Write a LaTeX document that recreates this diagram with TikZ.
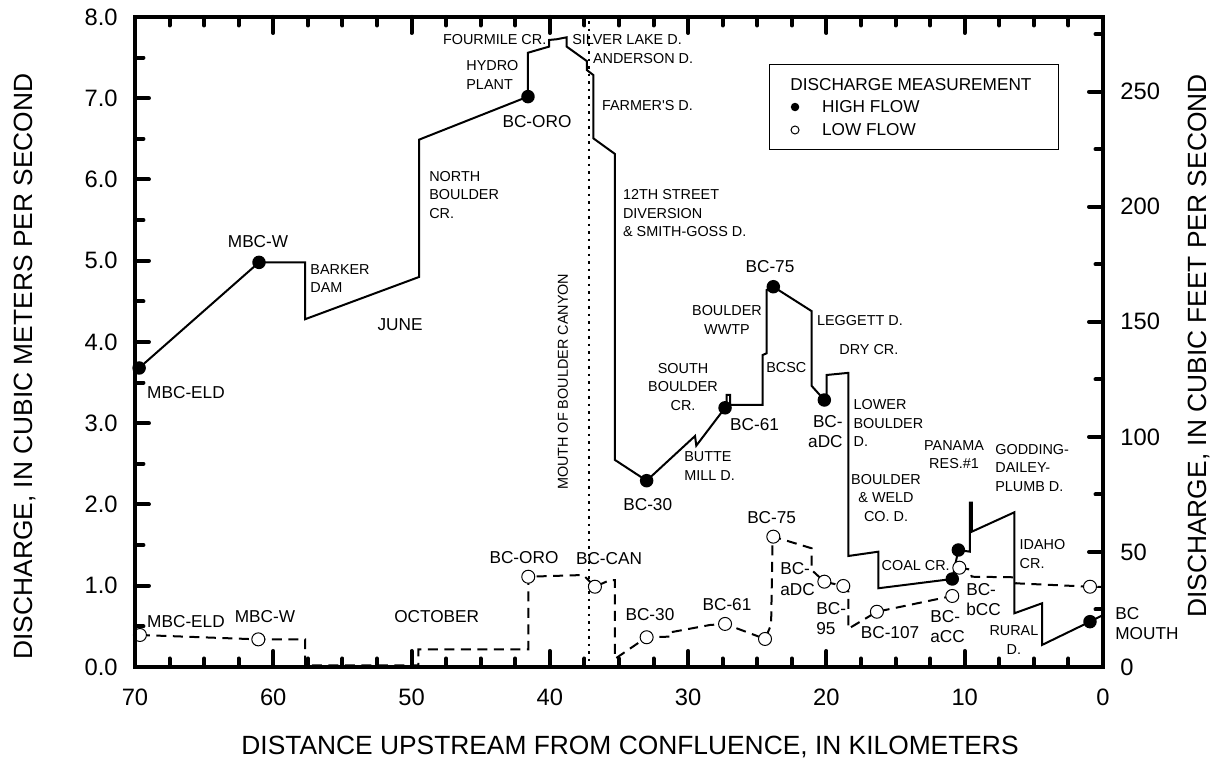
\documentclass[tikz,border=0pt]{standalone}
\usepackage{fontspec}
\setmainfont{Liberation Sans}
\usetikzlibrary{calc}
\def\cfs{0.0283168}

\begin{document}
\begin{tikzpicture}[x={(-0.27658cm,0)}, y={(0,1.625cm)},
	frame/.style={line width=0.8mm},
	axtick/.style={line width=0.8mm, line cap=round},
	high/.style={line width=0.4mm},
	low/.style={line width=0.4mm, dash pattern=on 2mm off 1.3mm},
	canyon/.style={line width=0.4mm, dash pattern=on 0.5mm off 1mm},
	hdot/.style={circle, fill=black, inner sep=0pt, minimum size=2.7mm},
	ldot/.style={circle, draw=black, fill=white, line width=0.2mm, inner sep=0pt, minimum size=2.6mm},
	feat/.style={font=\fontsize{8.2}{10.6}\selectfont, inner sep=0pt, align=left},
	stn/.style={font=\fontsize{9.8}{11.6}\selectfont, inner sep=0pt, align=left},
	num/.style={font=\fontsize{13.5}{16}\selectfont, inner sep=0pt},
	ttl/.style={font=\fontsize{15}{17}\selectfont, inner sep=0pt}]
			%%%%% START %%%%%
			
			\useasboundingbox (79.76,-1.157) rectangle (-7.954,8.209);
			
			% mouth of the canyon
			\draw[canyon] (37.17,7.95) -- (37.17,0);
			\node[feat, rotate=90] (canyon) at (39.05,3.51) {MOUTH OF BOULDER CANYON};
			
			% june, high flow
			\draw[high] (69.7,3.68) -- (61.03,4.98) -- (57.7,4.98) -- (57.7,4.28) -- (49.46,4.80) -- (49.46,6.49)
				-- (41.58,7.02) -- (41.58,7.56) -- (40.06,7.635) -- (40.06,7.717) -- (39.5,7.726) -- (38.78,7.75)
				-- (38.78,7.635) -- (37.33,7.458) -- (37.33,7.348) -- (36.86,7.286) -- (36.86,6.507) -- (35.29,6.314)
				-- (35.29,2.548) -- (33.0,2.293) -- (29.5,2.843) -- (29.41,2.724) -- (27.33,3.19);
			\draw[high] (27.33,3.19) -- (27.21,3.225) -- (27.21,3.348) -- (26.97,3.348) -- (26.97,3.225) -- (24.61,3.225)
				-- (24.61,3.84) -- (24.32,3.861) -- (24.32,4.64) -- (23.84,4.68) -- (21.07,4.38) -- (21.07,3.46)
				-- (20.15,3.286) -- (19.98,3.29) -- (19.98,3.594) -- (18.42,3.62) -- (18.42,1.366) -- (16.25,1.419)
				-- (16.25,0.969) -- (10.9,1.083) -- (10.46,1.44) -- (9.62,1.419) -- (9.62,2.022) -- (9.49,2.022)
				-- (9.49,1.665) -- (6.41,1.904) -- (6.41,0.661) -- (4.41,0.784) -- (4.41,0.271) -- (0.94,0.558) -- (0,0.64);
			
			% october, low flow
			\draw[low] (69.64,0.394) -- (61.08,0.34) -- (57.7,0.34) -- (57.7,0.02) -- (49.51,0.02) -- (49.51,0.218)
				-- (41.56,0.218) -- (41.56,1.111) -- (37.58,1.132) -- (36.74,0.988) -- (35.65,1.07) -- (35.29,1.07)
				-- (35.29,0.1) -- (33.0,0.366) -- (31.43,0.373) -- (31.43,0.422) -- (28.42,0.517) -- (27.33,0.53)
				-- (24.44,0.345) -- (24.0,0.52) -- (23.9,1.5) -- (23.84,1.604) -- (21.07,1.461) -- (21.07,1.194)
				-- (20.15,1.05) -- (18.78,0.997) -- (18.42,0.93) -- (18.42,0.47) -- (16.35,0.68) -- (10.9,0.874);
			\draw[low] (10.39,1.222) -- (9.62,1.2) -- (9.49,1.111) -- (6.41,1.104) -- (6.3,1.03) -- (0.94,0.988) -- (0,0.985);
			
			% measurements
			\foreach \k/\q [count=\i] in {69.7/3.68, 61.03/4.98, 41.58/7.02, 33.0/2.293, 27.33/3.19, 23.84/4.68,
				20.15/3.286, 10.9/1.083, 10.46/1.44, 0.94/0.558}
				\node[hdot] (hi\i) at (\k,\q) {};
			\foreach \k/\q [count=\i] in {69.64/0.394, 61.08/0.34, 41.56/1.111, 36.74/0.988, 33.0/0.366, 27.33/0.53,
				24.44/0.345, 23.84/1.604, 20.15/1.05, 18.78/0.997, 16.35/0.68, 10.9/0.874, 10.39/1.222, 0.94/0.988}
				\node[ldot] (lo\i) at (\k,\q) {};
			
			% labels, high flow
			\node[stn] (eldhi) at (66.31,3.372) {MBC-ELD};
			\node[stn] (whi) at (61.1,5.231) {MBC-W};
			\node[feat, anchor=west] (barker) at (57.34,4.782) {BARKER\\DAM};
			\node[stn] (june) at (50.83,4.209) {JUNE};
			\node[feat, anchor=west] (northbc) at (48.74,5.813) {NORTH\\BOULDER\\CR.};
			\node[feat, anchor=west] (hydro) at (46.06,7.286) {HYDRO\\PLANT};
			\node[feat, anchor=east] (fourmile) at (40.23,7.717) {FOURMILE CR.};
			\node[feat, anchor=west] (silver) at (38.4,7.717) {SILVER LAKE D.};
			\node[feat, anchor=west] (anderson) at (36.9,7.483) {ANDERSON D.};
			\node[stn] (orohi) at (40.93,6.708) {BC-ORO};
			\node[feat, anchor=west] (farmer) at (36.25,6.905) {FARMER\textquotesingle S D.};
			\node[feat, anchor=west] (twelfth) at (34.73,5.584) {12TH STREET\\DIVERSION\\\& SMITH-GOSS D.};
			\node[stn] (s75hi) at (24.08,4.927) {BC-75};
			\node[feat, align=center] (wwtp) at (27.19,4.271) {BOULDER\\WWTP};
			\node[feat, anchor=west] (leggett) at (20.7,4.258) {LEGGETT D.};
			\node[feat, anchor=west] (dry) at (19.09,3.902) {DRY CR.};
			\node[feat, anchor=west] (bcsc) at (24.37,3.689) {BCSC};
			\node[feat, align=center] (southbc) at (30.37,3.45) {SOUTH\\BOULDER\\CR.};
			\node[stn] (s61hi) at (25.19,2.978) {BC-61};
			\node[feat, anchor=west] (butte) at (30.3,2.471) {BUTTE\\MILL D.};
			\node[stn] (s30hi) at (32.92,2.002) {BC-30};
			\node[stn, anchor=east, align=right] (adchi) at (18.8,2.896) {BC-\\aDC};
			\node[feat, anchor=west] (lowerbc) at (18.06,3.0) {LOWER\\BOULDER\\D.};
			\node[feat, align=center] (panama) at (10.77,2.613) {PANAMA\\RES.\#1};
			\node[feat, anchor=west] (godding) at (7.81,2.452) {GODDING-\\DAILEY-\\PLUMB D.};
			\node[feat, align=center] (weld) at (15.69,2.083) {BOULDER\\\& WELD\\CO. D.};
			\node[feat, anchor=west] (idaho) at (6.05,1.393) {IDAHO\\CR.};
			\node[feat, anchor=east] (coal) at (11.06,1.243) {COAL CR.};
			\node[stn, anchor=west] (bcc) at (9.91,0.833) {BC-\\bCC};
			\node[stn, anchor=west] (acc) at (12.51,0.495) {BC-\\aCC};
			\node[feat, align=center] (rural) at (6.44,0.33) {RURAL\\D.};
			\node[stn, anchor=west] (mouth) at (-0.87,0.532) {BC\\MOUTH};
			
			% labels, low flow
			\node[stn] (eldlo) at (66.31,0.558) {MBC-ELD};
			\node[stn] (wlo) at (60.6,0.619) {MBC-W};
			\node[stn] (october) at (48.18,0.619) {OCTOBER};
			\node[stn] (orolo) at (41.87,1.35) {BC-ORO};
			\node[stn] (can) at (35.72,1.329) {BC-CAN};
			\node[stn] (s30lo) at (32.76,0.64) {BC-30};
			\node[stn] (s61lo) at (27.19,0.763) {BC-61};
			\node[stn] (s75lo) at (23.96,1.842) {BC-75};
			\node[stn, anchor=west] (adclo) at (23.36,1.081) {BC-\\aDC};
			\node[stn, anchor=west] (s95) at (20.75,0.599) {BC-\\95};
			\node[stn] (s107) at (15.4,0.427) {BC-107};
			
			% legend
			\draw[line width=0.2mm] (24.15,7.41) rectangle (3.25,6.375);
			\node[stn, anchor=west] (legtitle) at (22.63,7.163) {DISCHARGE MEASUREMENT};
			\node[circle, fill=black, inner sep=0pt, minimum size=1.7mm] (leghi) at (22.27,6.892) {};
			\node[stn, anchor=west] at (20.34,6.892) {HIGH FLOW};
			\node[circle, draw=black, line width=0.2mm, inner sep=0pt, minimum size=1.6mm] (leglo) at (22.27,6.609) {};
			\node[stn, anchor=west] at (20.34,6.609) {LOW FLOW};
			
			% axes
			\draw[frame] (70,0) rectangle (0,8);
			\foreach \k in {2.5,5,...,67.5} {
				\draw[axtick] (\k,0) -- ++(0,1.7mm);
				\draw[axtick] (\k,8) -- ++(0,-1.7mm);
			}
			\foreach \k in {10,20,...,60} {
				\draw[axtick] (\k,0) -- ++(0,3.2mm);
				\draw[axtick] (\k,8) -- ++(0,-3.2mm);
			}
			\foreach \v in {0.5,1.5,...,7.5}
				\draw[axtick] (70,\v) -- ++(1.7mm,0);
			\foreach \v in {1,...,7}
				\draw[axtick] (70,\v) -- ++(2.8mm,0);
			\foreach \c in {25,75,...,275}
				\draw[axtick] (0,{\c*\cfs}) -- ++(-1.5mm,0);
			\foreach \c in {50,100,...,250}
				\draw[axtick] (0,{\c*\cfs}) -- ++(-2.8mm,0);
			
			\foreach \v in {0,...,8}
				\node[num, anchor=east] at (71.23,\v) {\v.0};
			\foreach \k in {0,10,...,70}
				\node[num] at (\k,-0.37) {\k};
			\foreach \c in {0,50,...,250}
				\node[num, anchor=west] at (-1.23,{\c*\cfs}) {\c};
			
			\node[ttl, rotate=90] (ylab) at (77.96,3.698) {DISCHARGE, IN CUBIC METERS PER SECOND};
			\node[ttl, rotate=90] (y2lab) at (-6.94,3.951) {DISCHARGE, IN CUBIC FEET PER SECOND};
			\node[ttl] (xlab) at (34.2,-0.981) {DISTANCE UPSTREAM FROM CONFLUENCE, IN KILOMETERS};
			
			%%%%% END %%%%%
\end{tikzpicture}
\end{document}
